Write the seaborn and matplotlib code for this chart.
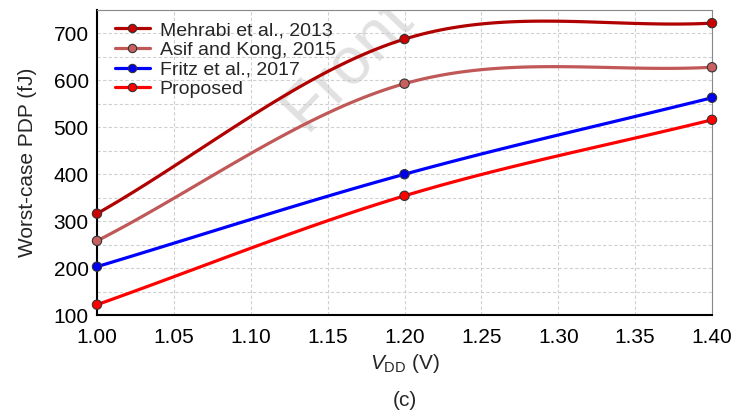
import numpy as np
import pandas as pd
import seaborn as sns
from matplotlib import pyplot as plt
from matplotlib.lines import Line2D

# supply voltage (V) and worst-case PDP (fJ)
vdd = [1.0, 1.2, 1.4]
mehrabi = [316, 688, 722]
asif = [258, 593, 628]
fritz = [203, 400, 563]
proposed = [122, 354, 516]

labels = ['Mehrabi et al., 2013', 'Asif and Kong, 2015', 'Fritz et al., 2017', 'Proposed']
line_colors = ['#b00000', '#c05858', '#0000ff', '#ff0000']
dot_colors = ['#cc0000', '#c86060', '#0000ee', '#ff0000']


def smooth(x, y, n=60):
    # Catmull-Rom style curve, only used to draw the smoothed connecting line
    x = np.asarray(x, float)
    y = np.asarray(y, float)
    m = np.gradient(y, x)
    m[0] = (y[1] - y[0]) / (x[1] - x[0])
    m[-1] = (y[-1] - y[-2]) / (x[-1] - x[-2])
    xs_all, ys_all = [], []
    for i in range(len(x) - 1):
        h = x[i + 1] - x[i]
        t = np.linspace(0, 1, n)
        h00 = 2 * t**3 - 3 * t**2 + 1
        h10 = t**3 - 2 * t**2 + t
        h01 = -2 * t**3 + 3 * t**2
        h11 = t**3 - t**2
        xs_all.append(x[i] + t * h)
        ys_all.append(h00 * y[i] + h10 * h * m[i] + h01 * y[i + 1] + h11 * h * m[i + 1])
    return np.concatenate(xs_all), np.concatenate(ys_all)


sns.set_theme(style='white')
plt.rcParams['font.family'] = ['Liberation Sans', 'DejaVu Sans']
plt.rcParams['mathtext.fontset'] = 'custom'
plt.rcParams['mathtext.rm'] = 'Liberation Sans'
plt.rcParams['mathtext.it'] = 'Liberation Sans:italic'

fig = plt.figure(figsize=(7.37, 4.17), dpi=100)
ax = fig.add_axes([0.1316, 0.2446, 0.8345, 0.7314])

curves = []
points = []
for lab, ser in zip(labels, [mehrabi, asif, fritz, proposed]):
    xs, ys = smooth(vdd, ser)
    curves.append(pd.DataFrame({'V': xs, 'PDP': ys, 'design': lab}))
    points.append(pd.DataFrame({'V': vdd, 'PDP': ser, 'design': lab}))
curves = pd.concat(curves)
points = pd.concat(points)

pal_line = dict(zip(labels, line_colors))
pal_dot = dict(zip(labels, dot_colors))
sns.lineplot(data=curves, x='V', y='PDP', hue='design', palette=pal_line,
             linewidth=2.3, legend=False, ax=ax, zorder=3, sort=False)
sns.scatterplot(data=points, x='V', y='PDP', hue='design', palette=pal_dot,
                s=45, edgecolor='#333333', linewidth=0.8, legend=False,
                ax=ax, zorder=4, clip_on=False)

ax.set_xlim(1.0, 1.4)
ax.set_ylim(100, 750)
ax.set_xticks(np.arange(1.0, 1.401, 0.05))
ax.set_xticklabels([f'{v:.2f}' for v in np.arange(1.0, 1.401, 0.05)])
ax.set_yticks(np.arange(100, 701, 100))
ax.set_yticks(np.arange(150, 751, 100), minor=True)
ax.grid(True, which='both', axis='y', color='#d0d0d0', linestyle=(0, (3, 2)), linewidth=0.8)
ax.grid(True, which='major', axis='x', color='#d0d0d0', linestyle=(0, (3, 2)), linewidth=0.8)
ax.tick_params(axis='both', which='major', direction='in', length=7, width=2.5,
               labelsize=15, colors='black')
ax.tick_params(axis='x', which='major', pad=9)
ax.tick_params(axis='y', which='major', pad=6)
ax.tick_params(axis='y', which='minor', length=0)
ax.tick_params(top=False, right=False)
for s in ['left', 'bottom']:
    ax.spines[s].set_color('black')
    ax.spines[s].set_linewidth(1.5)
for s in ['top', 'right']:
    ax.spines[s].set_color('#888888')
    ax.spines[s].set_linewidth(0.8)

ax.set_ylabel('Worst-case PDP (fJ)', fontsize=15, labelpad=12)
ax.set_xlabel(r'$V_{\mathrm{DD}}$ (V)', fontsize=15, labelpad=4)
fig.text(0.549, 0.04, '(c)', ha='center', va='center', fontsize=15)

# faint watermark, clipped by the axes like in the source
ax.text(1.137, 482, 'Front In', fontsize=48, color='#c4c4c4', alpha=0.5,
        rotation=46, rotation_mode='anchor', ha='left', va='baseline',
        zorder=1, clip_on=True)

handles = [Line2D([0], [0], color=lc, lw=2.3, marker='o', markersize=6,
                  markerfacecolor=dc, markeredgecolor='#333333', markeredgewidth=0.8)
           for lc, dc in zip(line_colors, dot_colors)]
ax.legend(handles, labels, loc='upper left', frameon=False, fontsize=14,
          handlelength=1.8, handletextpad=0.5, labelspacing=0.1,
          borderaxespad=0.2, bbox_to_anchor=(0.01, 1.0))

fig.savefig('out.png', dpi=100)
